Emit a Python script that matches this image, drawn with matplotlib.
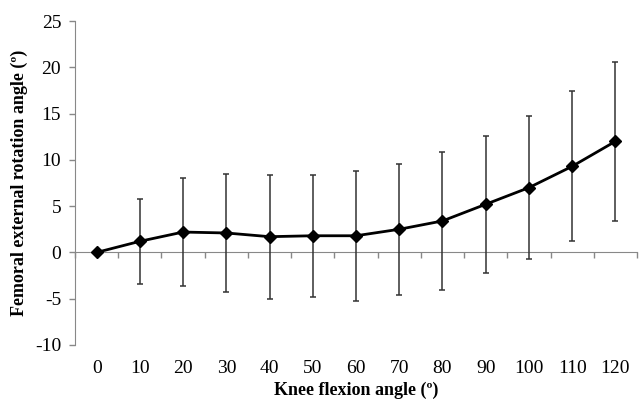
import matplotlib.pyplot as plt
import numpy as np

plt.rcParams['font.family'] = ['Liberation Serif', 'DejaVu Serif']
plt.rcParams['axes.unicode_minus'] = False

# knee flexion angle categories and femoral rotation mean / SD
angles = ['0', '10', '20', '30', '40', '50', '60', '70', '80', '90', '100', '110', '120']
mean_rot = [0.0, 1.2, 2.2, 2.1, 1.7, 1.8, 1.8, 2.5, 3.4, 5.2, 7.0, 9.3, 12.0]
sd_rot = [0.0, 4.6, 5.8, 6.4, 6.7, 6.6, 7.0, 7.1, 7.5, 7.4, 7.7, 8.1, 8.6]

y_ticks = [-10, -5, 0, 5, 10, 15, 20, 25]

fig = plt.figure(figsize=(6.39, 4.01), dpi=100)
ax = fig.add_axes([0.1174, 0.1397, 0.8795, 0.8079])

x = np.arange(len(angles))
ax.errorbar(x, mean_rot, yerr=sd_rot, fmt='none', ecolor='#333333',
            elinewidth=1.1, capsize=2, capthick=1.1, zorder=2)
ax.plot(x, mean_rot, color='black', lw=2, marker='D', ms=6.5,
        mfc='black', mec='black', zorder=3)

ax.set_xlim(-0.5, len(angles) - 0.5)
ax.set_ylim(-10, 25)
ax.set_yticks(y_ticks)
ax.set_xticks(x)
ax.set_xticklabels(angles)
ax.tick_params(axis='x', length=0, pad=11, labelsize=14)
ax.tick_params(axis='y', direction='out', length=4, width=1, color='#888888',
               labelsize=14, pad=6)

for side in ['top', 'right', 'bottom']:
    ax.spines[side].set_visible(False)
ax.spines['left'].set_color('#888888')

# category axis crossing at zero, ticks between categories
zero_pos = (0 - (-10)) / 35
sec = ax.secondary_xaxis(zero_pos)
sec.set_xticks(np.arange(-0.5, len(angles), 1.0))
sec.tick_params(axis='x', direction='out', length=4, width=1, color='#888888',
                labelbottom=False, labeltop=False, bottom=True, top=False)
sec.spines['bottom'].set_color('#888888')
sec.spines['top'].set_visible(False)

ax.set_xlabel('Knee flexion angle (º)', fontsize=13, fontweight='bold', labelpad=3)
ax.set_ylabel('Femoral external rotation angle (º)', fontsize=13,
              fontweight='bold', labelpad=5)

fig.savefig('out.png', dpi=100)
